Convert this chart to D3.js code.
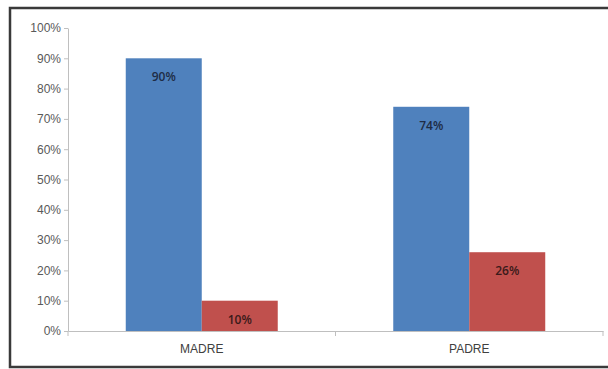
<!DOCTYPE html>
<html>
<head>
<meta charset="utf-8">
<script src="https://cdn.jsdelivr.net/npm/d3@7"></script>
<style>
  body { margin: 0; background: #fff; }
  svg { display: block; font-family: "Open Sans", "Liberation Sans", sans-serif; }
</style>
</head>
<body>
<div id="chart"></div>
<script>
const categories = ["MADRE", "PADRE"];
const series = ["A", "B"];
const valuesA = [90, 74];
const valuesB = [10, 26];
const yTicks = [0, 10, 20, 30, 40, 50, 60, 70, 80, 90, 100];

const width = 608;
const height = 369;
const margin = { top: 28, right: 5, bottom: 38, left: 68 };

const svg = d3.select("#chart").append("svg")
    .attr("width", width)
    .attr("height", height);

// outer frame
svg.append("rect")
    .attr("x", 10).attr("y", 8)
    .attr("width", width + 10).attr("height", 359)
    .attr("fill", "none")
    .attr("stroke", "#3a3a3a")
    .attr("stroke-width", 2.5);

const xScale = d3.scaleBand()
    .domain(categories)
    .range([margin.left, width - margin.right]);

const inner = d3.scaleBand()
    .domain(series)
    .range([0, xScale.bandwidth()])
    .paddingOuter(0.76);

const yScale = d3.scaleLinear()
    .domain([0, 100])
    .range([height - margin.bottom, margin.top]);

const data = categories.map((c, i) => ({ cat: c, vals: [valuesA[i], valuesB[i]] }));
const colors = ["#4F81BD", "#C0504D"];

const groups = svg.selectAll(".grp")
    .data(data)
    .join("g")
    .attr("class", "grp")
    .attr("transform", d => `translate(${xScale(d.cat)},0)`);

groups.selectAll("rect")
    .data(d => d.vals.map((v, j) => ({ s: series[j], v, j })))
    .join("rect")
    .attr("x", d => inner(d.s))
    .attr("y", d => yScale(d.v))
    .attr("width", inner.bandwidth())
    .attr("height", d => yScale(0) - yScale(d.v))
    .attr("fill", d => colors[d.j]);

groups.selectAll("text")
    .data(d => d.vals.map((v, j) => ({ s: series[j], v, j })))
    .join("text")
    .attr("x", d => inner(d.s) + inner.bandwidth() / 2)
    .attr("y", d => yScale(d.v) + 23)
    .attr("text-anchor", "middle")
    .attr("font-size", 12)
    .attr("font-weight", 600)
    .attr("fill", d => d.j === 0 ? "#1e2c45" : "#3a1a1a")
    .text(d => d.v + "%");

// y axis
const yAxis = svg.append("g")
    .attr("transform", `translate(${margin.left},0)`)
    .call(d3.axisLeft(yScale).tickValues(yTicks).tickFormat(d => d + "%").tickSize(4).tickSizeOuter(0));
yAxis.select(".domain").attr("stroke", "#bfbfbf");
yAxis.selectAll(".tick line").attr("stroke", "#bfbfbf");
yAxis.selectAll(".tick text").attr("fill", "#595959").attr("font-size", 12).attr("x", -7);

// x axis
const xAxis = svg.append("g")
    .attr("transform", `translate(0,${yScale(0)})`)
    .call(d3.axisBottom(xScale).tickSize(0).tickSizeOuter(0));
xAxis.select(".domain").attr("stroke", "#bfbfbf");
xAxis.selectAll(".tick text").attr("fill", "#404040").attr("font-size", 12).attr("dy", "1.55em");

// category separator ticks
const bounds = [xScale.range()[0], xScale(categories[1]), xScale.range()[1]];
xAxis.selectAll(".sep")
    .data(bounds)
    .join("line")
    .attr("class", "sep")
    .attr("x1", d => d).attr("x2", d => d)
    .attr("y1", 0).attr("y2", 5)
    .attr("stroke", "#bfbfbf");
</script>
</body>
</html>
